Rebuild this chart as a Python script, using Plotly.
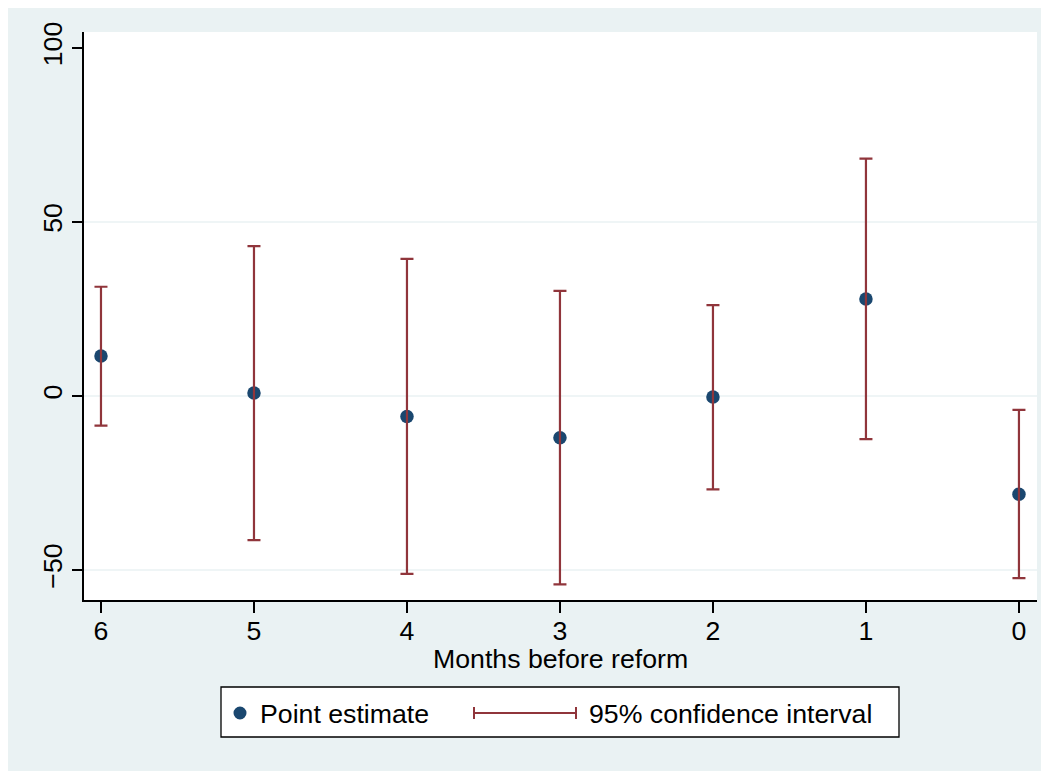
import plotly.graph_objects as go

# ---- data ----
months = [6, 5, 4, 3, 2, 1, 0]
estimate = [11.5, 0.9, -5.9, -12.0, -0.3, 27.9, -28.2]
ci_upper = [31.4, 43.1, 39.4, 30.2, 26.1, 68.2, -4.0]
ci_lower = [-8.5, -41.4, -51.1, -54.1, -26.8, -12.4, -52.3]
y_ticks = [-50, 0, 50, 100]
x_ticks = [6, 5, 4, 3, 2, 1, 0]
grid_vals = [-50, 0, 50]
x_title = "Months before reform"
legend_labels = ["Point estimate", "95% confidence interval"]

NAVY = "#1a476f"
MAROON = "#90353b"
BG = "#eaf2f3"
FONT = "Liberation Sans, Arial, sans-serif"
FS = 26.7

OFF = 8  # page body margin
W, H = 1049, 771
L, R, T, B = 84 - OFF, 1037 - OFF, 32 - OFF, 600 - OFF  # plot area (figure px)


def px(x):  # page px -> paper
    return (x - OFF - L) / (R - L)


def py(y):
    return (B - (y - OFF)) / (B - T)


err_plus = [u - e for u, e in zip(ci_upper, estimate)]
err_minus = [e - l for e, l in zip(estimate, ci_lower)]

fig = go.Figure()
fig.add_trace(go.Scatter(
    x=months, y=estimate, mode="markers",
    marker=dict(color=NAVY, size=13.5, line=dict(width=0)),
    name=legend_labels[0], showlegend=False,
))
fig.add_trace(go.Scatter(
    x=months, y=estimate, mode="markers",
    marker=dict(color="rgba(0,0,0,0)", size=1),
    error_y=dict(type="data", symmetric=False, array=err_plus,
                 arrayminus=err_minus, color=MAROON, thickness=2.2, width=6.5),
    name=legend_labels[1], showlegend=False,
))

shapes = []
for g in grid_vals:
    shapes.append(dict(type="line", xref="paper", yref="y", x0=0, x1=1,
                       y0=g, y1=g, line=dict(color=BG, width=1.5), layer="below"))

# custom legend (page pixel coordinates)
lx0, lx1, ly0, ly1 = 221, 899, 737, 687
shapes.append(dict(type="rect", xref="paper", yref="paper",
                   x0=px(lx0), x1=px(lx1), y0=py(ly0), y1=py(ly1),
                   line=dict(color="black", width=1.3), fillcolor="white"))
cy = 713
r = 6.5
shapes.append(dict(type="circle", xref="paper", yref="paper",
                   x0=px(240 - r), x1=px(240 + r), y0=py(cy + r), y1=py(cy - r),
                   line=dict(width=0), fillcolor=NAVY))
shapes.append(dict(type="line", xref="paper", yref="paper",
                   x0=px(474), x1=px(576), y0=py(cy), y1=py(cy),
                   line=dict(color=MAROON, width=2)))
for xc in (474, 576):
    shapes.append(dict(type="line", xref="paper", yref="paper",
                       x0=px(xc), x1=px(xc), y0=py(cy - 6), y1=py(cy + 6),
                       line=dict(color=MAROON, width=2)))

annotations = [
    dict(xref="paper", yref="paper", x=px(259), y=py(cy + 1), text=legend_labels[0],
         showarrow=False, xanchor="left", yanchor="middle", borderpad=0,
         font=dict(family=FONT, size=FS, color="black")),
    dict(xref="paper", yref="paper", x=px(588), y=py(cy + 1), text=legend_labels[1],
         showarrow=False, xanchor="left", yanchor="middle", borderpad=0,
         font=dict(family=FONT, size=FS, color="black")),
    dict(xref="paper", yref="paper", x=px(560.5), y=py(659), text=x_title,
         showarrow=False, xanchor="center", yanchor="middle", borderpad=0,
         font=dict(family=FONT, size=FS, color="black")),
]

fig.update_layout(
    width=W, height=H,
    margin=dict(l=L, r=W - R, t=T, b=H - B, pad=0),
    paper_bgcolor=BG, plot_bgcolor="white",
    font=dict(family=FONT, size=FS, color="black"),
    shapes=shapes, annotations=annotations,
    showlegend=False,
    xaxis=dict(
        range=[6.111, -0.118], tickmode="array", tickvals=x_ticks,
        ticktext=[str(v) for v in x_ticks],
        showgrid=False, zeroline=False, showline=True, linecolor="black",
        linewidth=1.5, ticks="outside", ticklen=11, tickwidth=1.5, tickcolor="black",
        tickfont=dict(size=FS), ticklabelstandoff=-5,
    ),
    yaxis=dict(
        range=[-58.6, 104.6], tickmode="array", tickvals=y_ticks,
        showgrid=False, zeroline=False, showline=True, linecolor="black",
        linewidth=1.5, ticks="outside", ticklen=10, tickwidth=1.5, tickcolor="black",
        tickangle=-90, tickfont=dict(size=FS),
    ),
)

fig.write_html("out.html")
